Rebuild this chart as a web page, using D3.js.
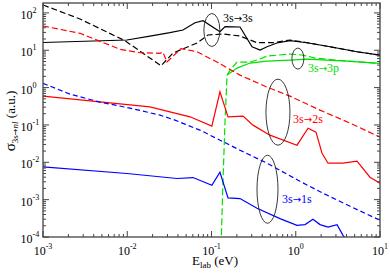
<!DOCTYPE html>
<html>
<head>
<meta charset="utf-8">
<script src="https://cdn.jsdelivr.net/npm/d3@7/dist/d3.min.js"></script>
<style>
body { margin: 0; background: #fff; }
svg { font-family: "Liberation Serif", "DejaVu Serif", serif; }
.arr { font-family: "DejaVu Sans", sans-serif; }
</style>
</head>
<body>
<div id="chart"></div>
<script>
// tick labels (exponents of 10)
var xExps = [-3, -2, -1, 0, 1];
var yExps = [-4, -3, -2, -1, 0, 1, 2];

// 3s -> 3s
var e33 = [0.001, 0.0099, 0.0186, 0.0321, 0.0459, 0.0637, 0.0793, 0.126, 0.145, 0.218, 0.303, 0.377, 0.456, 0.598, 0.855, 1.36, 2.55, 5.33, 10];
var s33 = [16.1, 18.8, 24.0, 29.5, 34.8, 54.6, 61.8, 31.3, 42.7, 41.9, 12.4, 10.1, 12.4, 15.6, 18.0, 15.9, 12.4, 9.12, 7.43];
var e33d = [0.001, 0.00275, 0.0094, 0.0252, 0.0349, 0.0673, 0.0908, 0.137, 0.218, 0.347, 0.537, 0.855, 1.36, 2.55, 5.33, 10];
var s33d = [163, 68.6, 18.0, 3.84, 8.41, 15.6, 25.6, 27.2, 24.0, 15.9, 15.9, 18.8, 15.9, 12.4, 9.12, 7.43];

// 3s -> 3p
var e3p = [0.153, 0.201, 0.286, 0.456, 0.855, 1.36, 4.06, 10];
var s3p = [2.16, 3.33, 4.54, 5.13, 5.46, 5.81, 5.13, 4.46];
var e3pd = [0.130, 0.137, 0.145, 0.153, 0.166, 0.201, 0.286, 0.377, 0.456, 0.855, 1.22, 1.69, 4.06, 10];
var s3pd = [0.00006, 0.00331, 0.135, 2.16, 2.94, 4.83, 4.83, 5.81, 7.00, 7.91, 7.43, 6.18, 5.13, 4.46];

// 3s -> 2s
var e32 = [0.001, 0.00475, 0.0186, 0.0321, 0.0556, 0.101, 0.126, 0.157, 0.237, 0.311, 0.494, 1.035, 1.40, 1.74, 2.05, 2.42, 3.64, 5.33, 7.60, 10];
var s32 = [0.592, 0.416, 0.305, 0.224, 0.165, 0.0929, 0.771, 0.165, 0.172, 0.0988, 0.0533, 0.0287, 0.082, 0.0641, 0.0175, 0.00946, 0.00946, 0.0107, 0.00399, 0.00275];
var e32d = [0.001, 0.00275, 0.0082, 0.0142, 0.0245, 0.0265, 0.0296, 0.0434, 0.0673, 0.116, 0.218, 0.456, 0.855, 1.94, 4.41, 10];
var s32d = [44.6, 28.4, 10.6, 8.57, 8.26, 8.96, 4.83, 11.1, 9.12, 4.83, 2.16, 1.03, 0.592, 0.249, 0.112, 0.0471];

// 3s -> 1s
var e31 = [0.001, 0.0099, 0.039, 0.0603, 0.101, 0.126, 0.157, 0.218, 0.347, 0.650, 1.035, 1.29, 1.60, 1.94, 2.42, 3.09, 3.64, 4.41];
var s31 = [0.00753, 0.00501, 0.00368, 0.00391, 0.00243, 0.00543, 0.00111, 0.00107, 0.000588, 0.000311, 0.000206, 0.000215, 0.000298, 0.000215, 0.000185, 0.000215, 0.000111, 0.00006];
var e31d = [0.001, 0.00209, 0.00475, 0.0108, 0.0245, 0.0369, 0.0484, 0.0729, 0.218, 0.456, 1.12, 2.10, 4.41, 10];
var s31d = [1.30, 0.670, 0.408, 0.282, 0.183, 0.135, 0.105, 0.0726, 0.0211, 0.00946, 0.00311, 0.00149, 0.000665, 0.000281];

var margins = {top: 3, right: 10, bottom: 38, left: 43},
    width = 390 - margins.left - margins.right,
    height = 275 - margins.top - margins.bottom;

var x = d3.scaleLog().domain([1e-3, 10]).range([0, width]);
var y = d3.scaleLog().domain([1e-4, 184]).range([height, 0]);

var svg = d3.select('#chart').append('svg')
    .attr('width', 390)
    .attr('height', 275);

var g = svg.append('g')
    .attr('transform', 'translate(' + margins.left + ',' + margins.top + ')');

g.append('clipPath').attr('id', 'clip')
    .append('rect').attr('width', width).attr('height', height);

var series = [
    {e: e33d, s: s33d, color: '#000', dash: '6,3'},
    {e: e33, s: s33, color: '#000', dash: null},
    {e: e3pd, s: s3pd, color: '#00e000', dash: '7,3'},
    {e: e3p, s: s3p, color: '#00e000', dash: null},
    {e: e32d, s: s32d, color: '#ff0000', dash: '6,3'},
    {e: e32, s: s32, color: '#ff0000', dash: null},
    {e: e31d, s: s31d, color: '#0000ff', dash: '5,3'},
    {e: e31, s: s31, color: '#0000ff', dash: null}
];

var line = d3.line()
    .x(function(d) { return x(d[0]); })
    .y(function(d) { return y(d[1]); });

g.append('g').attr('clip-path', 'url(#clip)')
    .selectAll('path')
    .data(series)
    .enter()
    .append('path')
    .attr('d', function(d) { return line(d3.zip(d.e, d.s)); })
    .attr('fill', 'none')
    .attr('stroke', function(d) { return d.color; })
    .attr('stroke-width', 1.2)
    .attr('stroke-dasharray', function(d) { return d.dash; });

/*
 * ellipses + labels
 */
var ellipses = [
    {e: 0.101, s: 34.8, rx: 8, ry: 16.5},
    {e: 1.06, s: 5.98, rx: 6, ry: 10.5},
    {e: 0.615, s: 0.220, rx: 12, ry: 33},
    {e: 0.462, s: 0.0019, rx: 10.5, ry: 34}
];
g.selectAll('ellipse')
    .data(ellipses)
    .enter()
    .append('ellipse')
    .attr('cx', function(d) { return x(d.e); })
    .attr('cy', function(d) { return y(d.s); })
    .attr('rx', function(d) { return d.rx; })
    .attr('ry', function(d) { return d.ry; })
    .attr('fill', 'none')
    .attr('stroke', '#222')
    .attr('stroke-width', 0.9);

var labels = [
    {e: 0.137, s: 57, from: '3s', to: '3s', color: '#000'},
    {e: 1.40, s: 2.6, from: '3s', to: '3p', color: '#00e000'},
    {e: 0.93, s: 0.112, from: '3s', to: '2s', color: '#ff0000'},
    {e: 0.687, s: 0.0008, from: '3s', to: '1s', color: '#0000ff'}
];
g.selectAll('text.lab')
    .data(labels)
    .enter()
    .append('text')
    .attr('class', 'lab')
    .attr('x', function(d) { return x(d.e); })
    .attr('y', function(d) { return y(d.s); })
    .attr('fill', function(d) { return d.color; })
    .style('font-size', '12px')
    .each(function(d) {
        var t = d3.select(this);
        t.append('tspan').text(d.from);
        t.append('tspan').attr('class', 'arr').style('font-size', '10px').text('\u2192');
        t.append('tspan').text(d.to);
    });

/*
 * axes: frame with inward ticks on all four sides
 */
var axisColor = '#444';
var xt = x.ticks(), yt = y.ticks();
function isMajor(v) { return Math.abs(Math.log10(v) - Math.round(Math.log10(v))) < 1e-6; }

var ticks = g.append('g').attr('stroke', axisColor).attr('stroke-width', 1);
xt.forEach(function(v) {
    var len = isMajor(v) ? 6 : 3;
    ticks.append('line').attr('x1', x(v)).attr('x2', x(v)).attr('y1', height).attr('y2', height - len);
    ticks.append('line').attr('x1', x(v)).attr('x2', x(v)).attr('y1', 0).attr('y2', len);
});
yt.filter(function(v) { return v <= 184; }).forEach(function(v) {
    var len = isMajor(v) ? 6 : 3;
    ticks.append('line').attr('y1', y(v)).attr('y2', y(v)).attr('x1', 0).attr('x2', len);
    ticks.append('line').attr('y1', y(v)).attr('y2', y(v)).attr('x1', width).attr('x2', width - len);
});

g.append('rect')
    .attr('width', width)
    .attr('height', height)
    .attr('fill', 'none')
    .attr('stroke', axisColor)
    .attr('stroke-width', 1.3);

g.selectAll('text.xt')
    .data(xExps)
    .enter()
    .append('text')
    .attr('class', 'xt')
    .attr('x', function(d) { return x(Math.pow(10, d)); })
    .attr('y', height + 18)
    .attr('text-anchor', 'middle')
    .style('font-size', '12px')
    .each(function(d) {
        var t = d3.select(this);
        t.append('tspan').text('10');
        t.append('tspan').attr('dy', -6).style('font-size', '8px').text(d);
    });

g.selectAll('text.yt')
    .data(yExps)
    .enter()
    .append('text')
    .attr('class', 'yt')
    .attr('x', -22.5)
    .attr('y', function(d) { return y(Math.pow(10, d)) + 6; })
    .style('font-size', '12px')
    .each(function(d) {
        var t = d3.select(this);
        t.append('tspan').text('10');
        t.append('tspan').attr('dy', -6).style('font-size', '8px').text(d);
    });

// axis titles
var xTitle = g.append('text')
    .attr('x', 172)
    .attr('y', height + 28)
    .attr('text-anchor', 'middle')
    .style('font-size', '13px');
xTitle.append('tspan').text('E');
xTitle.append('tspan').attr('dy', 3).style('font-size', '9px').text('lab');
xTitle.append('tspan').attr('dy', -3).text(' (eV)');

var yTitle = svg.append('text')
    .attr('transform', 'translate(15,' + (margins.top + 118) + ') rotate(-90)')
    .attr('text-anchor', 'middle')
    .style('font-size', '13px');
yTitle.append('tspan').style('font-size', '15px').text('\u03c3');
yTitle.append('tspan').attr('dy', 3).style('font-size', '9px').text('3s');
yTitle.append('tspan').attr('class', 'arr').style('font-size', '8px').text('\u2192');
yTitle.append('tspan').attr('font-style', 'italic').style('font-size', '9px').text('nl');
yTitle.append('tspan').attr('dy', -3).text(' (a.u.)');
</script>
</body>
</html>
